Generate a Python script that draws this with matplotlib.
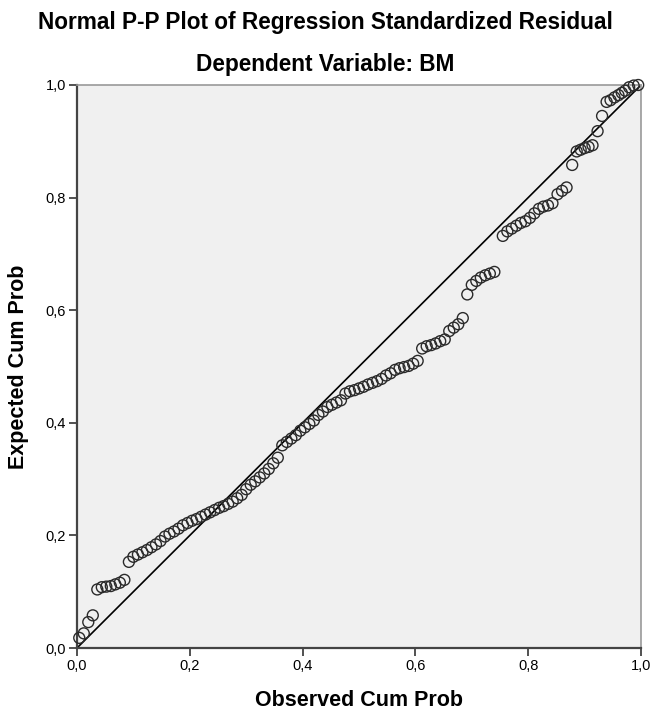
import matplotlib.pyplot as plt
from matplotlib.ticker import FuncFormatter

plt.rcParams['font.family'] = ['Liberation Sans', 'DejaVu Sans']

# observed cumulative probability (x) and expected cumulative probability (y)
observed = [0.004, 0.012, 0.020, 0.028, 0.036, 0.044, 0.052, 0.060, 0.068, 0.076,
            0.084, 0.092, 0.100, 0.108, 0.116, 0.124, 0.132, 0.140, 0.148, 0.156,
            0.164, 0.172, 0.180, 0.188, 0.196, 0.204, 0.212, 0.220, 0.228, 0.236,
            0.244, 0.252, 0.260, 0.268, 0.276, 0.284, 0.292, 0.300, 0.308, 0.316,
            0.324, 0.332, 0.340, 0.348, 0.356, 0.364, 0.372, 0.380, 0.388, 0.396,
            0.404, 0.412, 0.420, 0.428, 0.436, 0.444, 0.452, 0.460, 0.468, 0.476,
            0.484, 0.492, 0.500, 0.508, 0.516, 0.524, 0.532, 0.540, 0.548, 0.556,
            0.564, 0.572, 0.580, 0.588, 0.596, 0.604, 0.612, 0.620, 0.628, 0.636,
            0.644, 0.652, 0.660, 0.668, 0.676, 0.684, 0.692, 0.700, 0.708, 0.716,
            0.724, 0.732, 0.740, 0.755, 0.763, 0.771, 0.779, 0.787, 0.795, 0.803,
            0.811, 0.819, 0.827, 0.835, 0.843, 0.852, 0.860, 0.868, 0.878, 0.886,
            0.893, 0.900, 0.907, 0.914, 0.923, 0.931, 0.939, 0.946, 0.953, 0.960,
            0.966, 0.972, 0.979, 0.987, 0.995]
expected = [0.018, 0.026, 0.046, 0.058, 0.104, 0.108, 0.109, 0.110, 0.113, 0.116,
            0.121, 0.153, 0.162, 0.166, 0.170, 0.174, 0.179, 0.184, 0.190, 0.198,
            0.203, 0.207, 0.212, 0.218, 0.222, 0.226, 0.229, 0.233, 0.237, 0.241,
            0.245, 0.249, 0.252, 0.256, 0.260, 0.266, 0.272, 0.282, 0.290, 0.296,
            0.303, 0.310, 0.318, 0.328, 0.338, 0.360, 0.366, 0.372, 0.378, 0.386,
            0.392, 0.398, 0.404, 0.414, 0.420, 0.428, 0.432, 0.436, 0.440, 0.452,
            0.456, 0.458, 0.461, 0.464, 0.468, 0.471, 0.474, 0.478, 0.484, 0.488,
            0.494, 0.497, 0.499, 0.501, 0.505, 0.510, 0.532, 0.536, 0.538, 0.541,
            0.545, 0.548, 0.563, 0.569, 0.575, 0.586, 0.628, 0.645, 0.652, 0.658,
            0.662, 0.665, 0.668, 0.732, 0.740, 0.745, 0.750, 0.755, 0.758, 0.764,
            0.772, 0.780, 0.784, 0.786, 0.790, 0.806, 0.812, 0.818, 0.858, 0.882,
            0.885, 0.888, 0.890, 0.893, 0.918, 0.945, 0.970, 0.973, 0.978, 0.982,
            0.986, 0.990, 0.996, 0.999, 1.000]

ticks = [0.0, 0.2, 0.4, 0.6, 0.8, 1.0]

fig = plt.figure(figsize=(6.5, 7.16), dpi=100)
ax = fig.add_axes([77 / 650, 68 / 716, 564 / 650, 563 / 716])
ax.set_facecolor('#f0f0f0')

ax.plot([0, 1], [0, 1], color='black', linewidth=1.2, zorder=2)
ax.scatter(observed, expected, s=62, facecolors='none', edgecolors='#2a2a2a',
           linewidths=1.0, zorder=3, clip_on=False)

ax.set_xlim(0, 1)
ax.set_ylim(0, 1)
ax.set_xticks(ticks)
ax.set_yticks(ticks)
comma = FuncFormatter(lambda v, p: f"{v:.1f}".replace('.', ','))
ax.xaxis.set_major_formatter(comma)
ax.yaxis.set_major_formatter(comma)
ax.tick_params(direction='out', length=6, width=1.2, color='#333333',
               labelsize=10.5, pad=2, top=False, right=False)

for side in ['left', 'bottom']:
    ax.spines[side].set_color('#444444')
    ax.spines[side].set_linewidth(1.6)
for side in ['top', 'right']:
    ax.spines[side].set_color('#999999')
    ax.spines[side].set_linewidth(1.2)

ax.set_xlabel('Observed Cum Prob', fontsize=15.5, fontweight='bold', labelpad=12)
ax.set_ylabel('Expected Cum Prob', fontsize=15.5, fontweight='bold', labelpad=12)

fig.text(0.5, 1 - 22 / 716, 'Normal P-P Plot of Regression Standardized Residual',
         ha='center', va='center', fontsize=16.3, fontweight='bold')
fig.text(0.5, 1 - 64 / 716, 'Dependent Variable: BM',
         ha='center', va='center', fontsize=16.3, fontweight='bold')

fig.savefig('out.png', dpi=100)
